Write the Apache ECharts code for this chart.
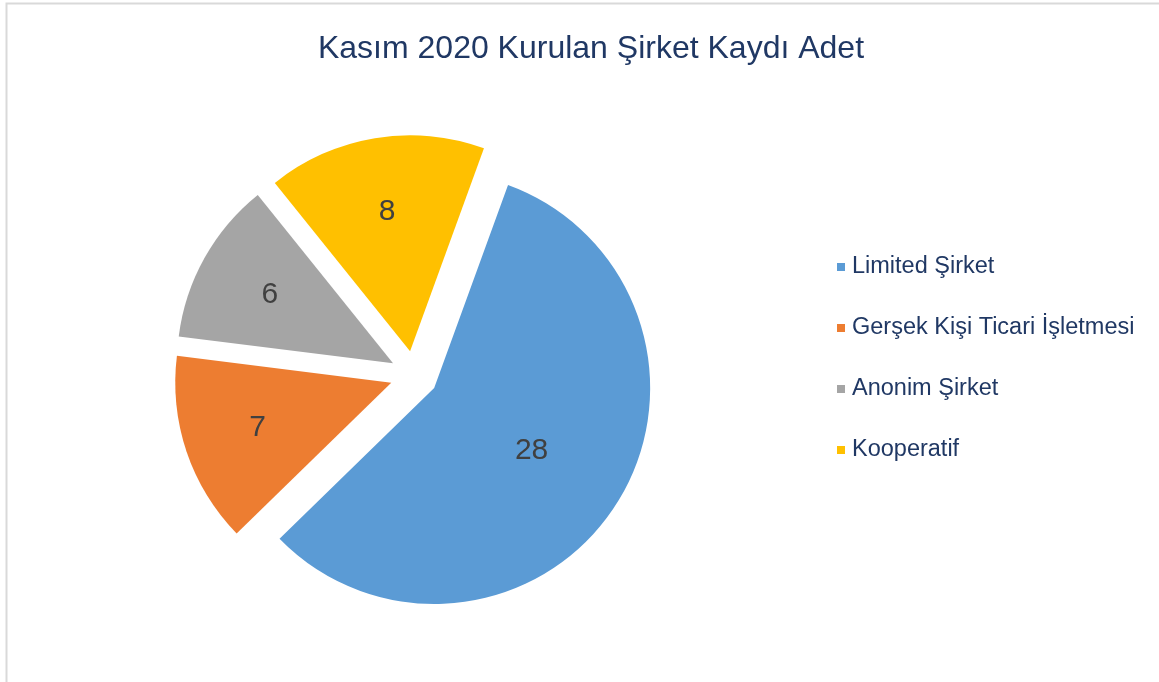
<!DOCTYPE html>
<html>
<head>
<meta charset="utf-8">
<script src="https://cdn.jsdelivr.net/npm/echarts@6/dist/echarts.min.js"></script>
<style>
  html, body { margin: 0; padding: 0; background: #fff; }
  #main { width: 1159px; height: 682px; }
</style>
</head>
<body>
<div id="main"></div>
<script>
// Kasım 2020 kurulan şirket sayıları
var sirketTurleri = ['Limited Şirket', 'Gerşek Kişi Ticari İşletmesi', 'Anonim Şirket', 'Kooperatif'];
var sirketAdetleri = [28, 7, 6, 8];
var dilimRenkleri = ['#5B9BD5', '#ED7D31', '#A5A5A5', '#FFC000'];

var yaziTipi = '"Liberation Sans", Arial, sans-serif';
var lacivert = '#203864';

function pasta_veri(renkli, etiketler) { // dilim verisini hazirla (renkli: gorunur dilimler, etiketler: etiketi gosterilecek dilimler)
	var arr = [];
	for (var i = 0; i < sirketTurleri.length; i++) {
		arr.push({
			name: sirketTurleri[i],
			value: sirketAdetleri[i],
			selected: true, // tum dilimler disari cekili
			itemStyle: { color: renkli ? dilimRenkleri[i] : 'rgba(0,0,0,0)' },
			label: { show: etiketler.indexOf(i) >= 0 }
		});
	}
	return arr;
}

function etiket_serisi(ic_yaricap, etiketler) { // sadece etiketler icin seffaf katman
	return {
		type: 'pie',
		silent: true,
		center: [414, 375],
		radius: [ic_yaricap, 216],
		startAngle: 70,
		clockwise: true,
		selectedMode: 'multiple',
		selectedOffset: 24,
		avoidLabelOverlap: false,
		label: {
			position: 'inner',
			formatter: '{c}',
			color: '#404040',
			fontSize: 30,
			fontFamily: yaziTipi
		},
		labelLine: { show: false },
		emphasis: { disabled: true },
		data: pasta_veri(false, etiketler)
	};
}

var myChart = echarts.init(document.getElementById('main'), null, { renderer: 'canvas' });

var option = {
	animation: false,
	backgroundColor: '#ffffff',
	title: {
		text: 'Kasım 2020 Kurulan Şirket Kaydı Adet',
		left: 586,
		textAlign: 'center',
		top: 28,
		textStyle: { color: lacivert, fontSize: 32, fontWeight: 'normal', fontFamily: yaziTipi }
	},
	legend: {
		orient: 'vertical',
		left: 832,
		top: 250,
		icon: 'rect',
		itemWidth: 8,
		itemHeight: 8,
		itemGap: 37,
		textStyle: { color: lacivert, fontSize: 23.5, fontFamily: yaziTipi, padding: [0, 0, 0, 2] },
		data: sirketTurleri.map(function (ad, i) {
			return { name: ad, itemStyle: { color: dilimRenkleri[i] } };
		})
	},
	graphic: [{
		type: 'polyline', // cerceve cizgisi (sol ve ust)
		silent: true,
		shape: { points: [[6.5, 682], [6.5, 3.5], [1159, 3.5]] },
		style: { stroke: '#d9d9d9', lineWidth: 2, fill: null }
	}],
	series: [
		{
			name: 'adet',
			type: 'pie',
			center: [414, 375],
			radius: [0, 216],
			startAngle: 70,
			clockwise: true,
			selectedMode: 'multiple',
			selectedOffset: 24,
			avoidLabelOverlap: false,
			label: { show: false },
			labelLine: { show: false },
			emphasis: { disabled: true },
			data: pasta_veri(true, [])
		},
		etiket_serisi(10, [0]),
		etiket_serisi(60, [1, 2, 3])
	]
};

myChart.setOption(option);
</script>
</body>
</html>
